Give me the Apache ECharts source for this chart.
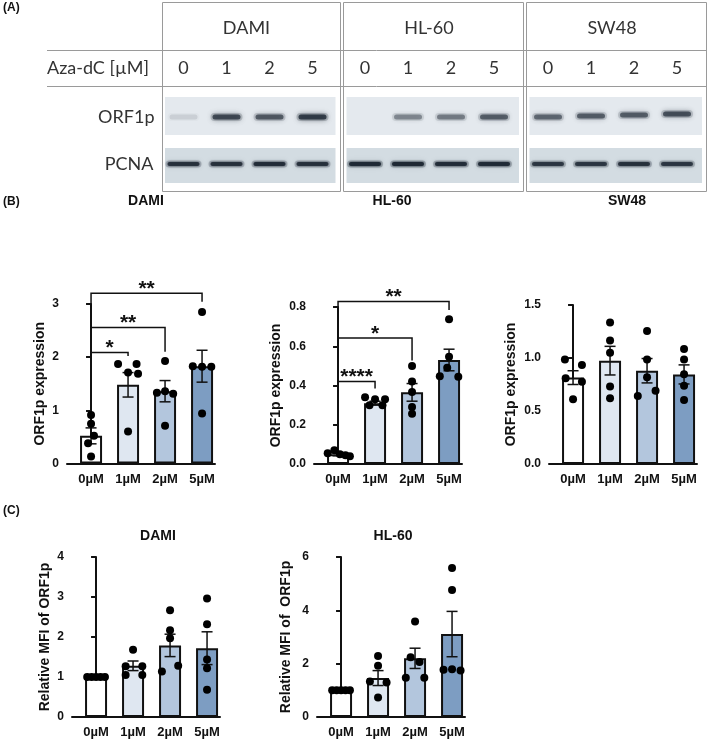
<!DOCTYPE html>
<html><head><meta charset="utf-8">
<script src="https://cdn.jsdelivr.net/npm/echarts@6/dist/echarts.min.js"></script>
<style>html,body{margin:0;padding:0;background:#fff}#c{width:709px;height:740px}</style>
</head><body><div id="c"></div>
<script>
// ---------- data ----------
const doses = ['0µM', '1µM', '2µM', '5µM'];
const barColors = ['#ffffff', '#dfe7f1', '#b3c6dd', '#7d9dc2'];

// Panel B - DAMI
const damiB_mean = [0.52, 1.48, 1.36, 1.83];
const damiB_sem = [0.15, 0.23, 0.2, 0.3];
const damiB_points = [[0,0,0.91],[0,0,0.75],[0,0.08,0.52],[0,-0.08,0.38],[0,0,0.13],
  [1,-0.27,1.87],[1,0.23,1.87],[1,0,1.71],[1,0.27,1.69],[1,0,0.60],
  [2,0,1.93],[2,-0.22,1.33],[2,0,1.36],[2,0.22,1.31],[2,0,0.71],
  [3,0,2.85],[3,-0.25,1.83],[3,0,1.82],[3,0.25,1.82],[3,0,0.94]];
const damiB_sig = [[0,3,3.2,2.73,3.04],[0,2,2.56,2.27,2.1],[0,1,2.09,1.9,2.02]];
const damiB_sigText = ['**', '**', '*'];

// Panel B - HL-60
const hlB_mean = [0.05, 0.31, 0.365, 0.53];
const hlB_sem = [0.008, 0.01, 0.045, 0.055];
const hlB_points = [[0,-0.28,0.055],[0,-0.1,0.07],[0,0.05,0.05],[0,0.2,0.045],[0,0.32,0.04],
  [1,-0.27,0.34],[1,0,0.33],[1,0.27,0.33],[1,-0.15,0.30],[1,0.2,0.30],
  [2,0,0.50],[2,0,0.42],[2,0,0.367],[2,0,0.29],[2,0,0.256],
  [3,0,0.737],[3,0,0.546],[3,-0.05,0.49],[3,-0.25,0.447],[3,0.25,0.445]];
const hlB_sig = [[0,3,0.828,0.698,0.785],[0,2,0.642,0.546,0.527],[0,1,0.421,0.375,0.385]];
const hlB_sigText = ['**', '*', '****'];

// Panel B - SW48
const swB_mean = [0.815, 0.975, 0.88, 0.845];
const swB_sem = [0.065, 0.135, 0.115, 0.09];
const swB_points = [[0,-0.22,0.987],[0,0.24,0.934],[0,-0.2,0.81],[0,0.24,0.777],[0,0,0.61],
  [1,0,1.336],[1,0,1.164],[1,0,1.05],[1,0,0.73],[1,0,0.62],
  [2,0,1.255],[2,0,0.987],[2,0,0.818],[2,-0.25,0.641],[2,0.23,0.692],
  [3,0,1.085],[3,0,0.987],[3,0,0.846],[3,0,0.739],[3,0,0.604]];

// Panel C - DAMI
const damiC_mean = [1.0, 1.28, 1.79, 1.72];
const damiC_sem = [0, 0.12, 0.28, 0.41];
const damiC_points = [[0,-0.24,1],[0,-0.12,1],[0,0,1],[0,0.12,1],[0,0.24,1],
  [1,0,1.68],[1,-0.2,1.27],[1,0.25,1.27],[1,-0.2,1.05],[1,0.25,1.05],
  [2,0,2.67],[2,0,2.17],[2,0,1.97],[2,-0.22,1.14],[2,0.22,1.28],
  [3,0,2.96],[3,0,2.32],[3,0,1.44],[3,0,1.22],[3,0,0.68]];

// Panel C - HL-60
const hlC_mean = [1.0, 1.46, 2.2, 3.11];
const hlC_sem = [0, 0.28, 0.38, 0.85];
const hlC_points = [[0,-0.24,1],[0,-0.12,1],[0,0,1],[0,0.12,1],[0,0.24,1],
  [1,0,2.29],[1,0,1.92],[1,-0.22,1.33],[1,0.23,1.29],[1,0,0.73],
  [2,0,3.58],[2,-0.12,2.24],[2,0.12,2.06],[2,-0.25,1.47],[2,0.25,1.47],
  [3,0,5.59],[3,0,4.76],[3,-0.23,1.77],[3,0,1.79],[3,0.23,1.74]];

// Panel A - western blot
const blotCells = ['DAMI', 'HL-60', 'SW48'];
const blotConc = ['0', '1', '2', '5'];
const orf1pBand = [[0.1,0.72,0.62,0.8],[0,0.4,0.45,0.6],[0.55,0.6,0.6,0.68]];
const pcnaBand = [[0.85,0.85,0.9,0.85],[0.95,0.97,0.9,0.93],[0.8,0.8,0.85,0.8]];

// ---------- layout ----------
const FONT = '"Liberation Sans", Arial, sans-serif';
const BLOTFONT = 'Lato, "Open Sans", sans-serif';
const panels = [
  {mean: damiB_mean, sem: damiB_sem, pts: damiB_points, sig: damiB_sig, sigText: damiB_sigText,
   left: 67, top: 304, bottom: 463.5, max: 3, interval: 1, dec: 0, gap: 20,
   name: 'ORF1p expression', title: 'DAMI', tx: 146, ty: 201},
  {mean: hlB_mean, sem: hlB_sem, pts: hlB_points, sig: hlB_sig, sigText: hlB_sigText,
   left: 314, top: 307, bottom: 464, max: 0.8, interval: 0.2, dec: 1, gap: 31,
   name: 'ORF1p expression', title: 'HL-60', tx: 392, ty: 201},
  {mean: swB_mean, sem: swB_sem, pts: swB_points, sig: null,
   left: 549, top: 305, bottom: 464, max: 1.5, interval: 0.5, dec: 1, gap: 31,
   name: 'ORF1p expression', title: 'SW48', tx: 627, ty: 201},
  {mean: damiC_mean, sem: damiC_sem, pts: damiC_points, sig: null,
   left: 72, top: 557, bottom: 717, max: 4, interval: 1, dec: 0, gap: 20,
   name: 'Relative MFI of ORF1p', title: 'DAMI', tx: 158, ty: 536},
  {mean: hlC_mean, sem: hlC_sem, pts: hlC_points, sig: null,
   left: 317, top: 557, bottom: 717, max: 6, interval: 2, dec: 0, gap: 24,
   name: 'Relative MFI of  ORF1p', title: 'HL-60', tx: 393, ty: 536}
];
const AXW = 148;

function errItem(params, api) {
  const x = api.value(0), m = api.value(1), e = api.value(2);
  if (!e) return null;
  const t = api.coord([x, m + e]), b = api.coord([x, m - e]);
  const hw = 5.5, st = {stroke: '#111', lineWidth: 1.5};
  return {type: 'group', children: [
    {type: 'line', shape: {x1: t[0], y1: t[1], x2: b[0], y2: b[1]}, style: st},
    {type: 'line', shape: {x1: t[0] - hw, y1: t[1], x2: t[0] + hw, y2: t[1]}, style: st},
    {type: 'line', shape: {x1: b[0] - hw, y1: b[1], x2: b[0] + hw, y2: b[1]}, style: st}
  ]};
}
function sigItemFactory(labels) {
  return function (params, api) {
    const x1 = api.value(0), x2 = api.value(1), yl = api.value(2), ya = api.value(3), yb = api.value(4);
    const a = api.coord([x1, ya]), b = api.coord([x1, yl]), c = api.coord([x2, yl]), d = api.coord([x2, yb]);
    return {type: 'group', children: [
      {type: 'polyline', shape: {points: [a, b, c, d]}, style: {stroke: '#111', lineWidth: 1.5, fill: null}},
      {type: 'text', x: (b[0] + c[0]) / 2, y: b[1] - 4,
       style: {text: labels[params.dataIndex], fill: '#111', font: 'bold 21px ' + FONT,
               textAlign: 'center', textVerticalAlign: 'middle'}}
    ]};
  };
}

const grid = [], xAxis = [], yAxis = [], series = [], graphic = [];
panels.forEach((p, i) => {
  grid.push({left: p.left, top: p.top, width: AXW, height: p.bottom - p.top, containLabel: false});
  xAxis.push({type: 'value', gridIndex: i, min: -0.65, max: 3.35, splitNumber: 4,
    axisLine: {show: true, lineStyle: {color: '#111', width: 2}},
    axisTick: {show: false}, splitLine: {show: false},
    axisLabel: {showMinLabel: false, showMaxLabel: false, margin: 9,
      color: '#111', fontWeight: 'bold', fontSize: 13, fontFamily: FONT,
      formatter: v => { const k = Math.round(v); return (Math.abs(v - k) < 1e-6 && k >= 0 && k < doses.length) ? doses[k] : ''; }}
  });
  yAxis.push({type: 'value', gridIndex: i, min: 0, max: p.max, interval: p.interval,
    name: p.name, nameLocation: 'middle', nameGap: p.gap,
    nameTextStyle: {color: '#111', fontWeight: 'bold', fontSize: 14, fontFamily: FONT},
    axisLine: {show: true, lineStyle: {color: '#111', width: 2}},
    axisTick: {show: true, length: 5, lineStyle: {color: '#111', width: 2}},
    splitLine: {show: false},
    axisLabel: {margin: 8, color: '#111', fontWeight: 'bold', fontSize: 12, fontFamily: FONT,
      formatter: v => v.toFixed(p.dec)}
  });
  series.push({type: 'bar', xAxisIndex: i, yAxisIndex: i, barWidth: 22, z: 2,
    data: p.mean.map((v, k) => ({value: [k, v], itemStyle: {color: barColors[k]}})),
    itemStyle: {borderColor: '#111', borderWidth: 2}});
  series.push({type: 'custom', xAxisIndex: i, yAxisIndex: i, z: 3, renderItem: errItem,
    data: p.mean.map((v, k) => [k, v, p.sem[k]])});
  series.push({type: 'scatter', xAxisIndex: i, yAxisIndex: i, z: 4, symbolSize: 8,
    itemStyle: {color: '#000', opacity: 1},
    data: p.pts.map(q => [q[0] + q[1], q[2]])});
  if (p.sig) {
    series.push({type: 'custom', xAxisIndex: i, yAxisIndex: i, z: 5, clip: false,
      renderItem: sigItemFactory(p.sigText), data: p.sig});
  }
  graphic.push({type: 'text', x: p.tx, y: p.ty,
    style: {text: p.title, font: 'bold 14px ' + FONT, fill: '#111', textAlign: 'center', textVerticalAlign: 'middle'}});
});

// panel labels
[['(A)', 8], ['(B)', 202], ['(C)', 511]].forEach(t => graphic.push({type: 'text', x: 3, y: t[1],
  style: {text: t[0], font: 'bold 12px ' + FONT, fill: '#111', textAlign: 'left', textVerticalAlign: 'middle'}}));

// ---------- panel A (blot table) ----------
const boxX = [161.5, 343, 526], boxW = [178, 180, 180];
const BOX_TOP = 2, BOX_BOT = 191;
const gline = '#9a9a9a';
function band(cx, cy, w, h, a, blur) {
  const col = 'rgba(30,40,52,' + a + ')';
  graphic.push({type: 'rect', shape: {x: cx - w / 2 - 2, y: cy - h / 2 - 1.5, width: w + 4, height: h + 3, r: (h + 3) / 2},
    style: {fill: 'rgba(30,40,52,' + (a * 0.25) + ')', shadowBlur: blur * 2, shadowColor: 'rgba(30,40,52,' + (a * 0.3) + ')'}});
  graphic.push({type: 'rect', shape: {x: cx - w / 2, y: cy - h / 2, width: w, height: h, r: h / 2},
    style: {fill: col, shadowBlur: blur, shadowColor: col}});
}
blotCells.forEach((name, b) => {
  const x0 = boxX[b], w = boxW[b];
  graphic.push({type: 'rect', shape: {x: Math.round(x0) + 0.5, y: BOX_TOP + 0.5, width: w, height: BOX_BOT - BOX_TOP},
    style: {fill: 'none', stroke: gline, lineWidth: 1}});
  graphic.push({type: 'text', x: x0 + w / 2 - 4, y: 28,
    style: {text: name, font: '18px ' + BLOTFONT, fill: '#333', textAlign: 'center', textVerticalAlign: 'middle'}});
  graphic.push({type: 'rect', shape: {x: x0 + 3.5, y: 97, width: w - 7.5, height: 38},
    style: {fill: '#e4e9ee'}});
  graphic.push({type: 'rect', shape: {x: x0 + 3.5, y: 148, width: w - 7.5, height: 35},
    style: {fill: '#d3dce2'}});
  blotConc.forEach((c, l) => {
    const cx = x0 + 22 + l * 43;
    graphic.push({type: 'text', x: cx, y: 68.5,
      style: {text: c, font: '18px ' + BLOTFONT, fill: '#333', textAlign: 'center', textVerticalAlign: 'middle'}});
    const a1 = orf1pBand[b][l];
    if (a1 > 0) band(cx, 117 - (b === 2 ? l : 0), 28, 5, a1, 5);
    band(cx, 164, 32, 4, pcnaBand[b][l], 3);
  });
});
[50.5, 86.5].forEach(y => graphic.push({type: 'line', shape: {x1: 47, y1: y, x2: 706, y2: y},
  style: {stroke: gline, lineWidth: 1}}));
graphic.push({type: 'text', x: 47, y: 68.5,
  style: {text: 'Aza-dC [µM]', font: '18px ' + BLOTFONT, fill: '#333', textAlign: 'left', textVerticalAlign: 'middle'}});
graphic.push({type: 'text', x: 154.5, y: 117,
  style: {text: 'ORF1p', font: '18px ' + BLOTFONT, fill: '#333', textAlign: 'right', textVerticalAlign: 'middle'}});
graphic.push({type: 'text', x: 153.5, y: 164,
  style: {text: 'PCNA', font: '18px ' + BLOTFONT, fill: '#333', textAlign: 'right', textVerticalAlign: 'middle'}});

const chart = echarts.init(document.getElementById('c'), null, {renderer: 'canvas'});
chart.setOption({animation: false, backgroundColor: '#fff', grid, xAxis, yAxis, series, graphic});
</script></body></html>
